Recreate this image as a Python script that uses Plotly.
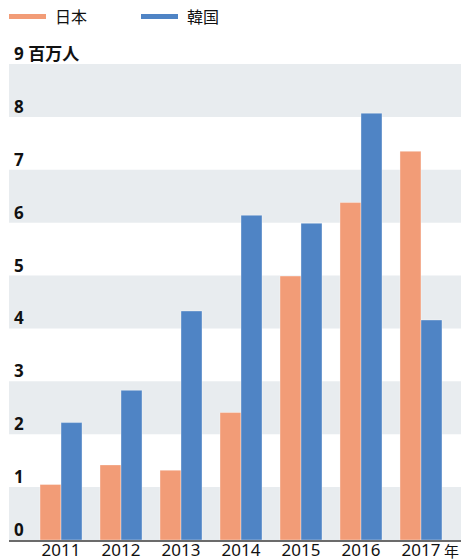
import plotly.graph_objects as go

years = ["2011", "2012", "2013", "2014", "2015", "2016", "2017"]
japan = [1.05, 1.42, 1.32, 2.41, 4.99, 6.38, 7.35]
korea = [2.22, 2.83, 4.33, 6.14, 5.99, 8.07, 4.16]
series_names = ["日本", "韓国"]
series_colors = ["#F29C77", "#4F84C5"]
y_ticks = [0, 1, 2, 3, 4, 5, 6, 7, 8, 9]
y_unit = "百万人"
x_unit = "年"

FONT = "Noto Sans, Noto Sans CJK JP"

fig = go.Figure()
for name, vals, col in zip(series_names, [japan, korea], series_colors):
    fig.add_trace(go.Bar(
        x=list(range(len(years))), y=vals, name=name,
        marker=dict(color=col, line=dict(color="rgba(255,255,255,0.35)", width=1)),
        showlegend=False,
    ))

shapes = []
for lo in y_ticks[:-1:2]:
    shapes.append(dict(type="rect", xref="paper", yref="y", x0=0, x1=1, y0=lo, y1=lo + 1,
                       fillcolor="#E8ECEF", line=dict(width=0), layer="below"))

annotations = []
for t in y_ticks:
    txt = f"<b>{t}</b>" if t != y_ticks[-1] else f"<b>{t} {y_unit}</b>"
    annotations.append(dict(xref="paper", yref="y", x=0.006, y=t, text=txt, showarrow=False,
                            xanchor="left", yanchor="bottom", yshift=-3,
                            font=dict(family=FONT, size=17, color="#111")))
annotations.append(dict(xref="paper", yref="paper", x=1, xshift=-1, y=0, text=x_unit,
                        showarrow=False, borderpad=0,
                        xanchor="right", yanchor="middle", yshift=-11,
                        font=dict(family=FONT, size=15, color="#111")))

# manual legend
leg_x = [9, 141]
for i, (name, col) in enumerate(zip(series_names, series_colors)):
    shapes.append(dict(type="rect", xref="paper", yref="paper",
                       x0=(leg_x[i] - 9) / 452, x1=(leg_x[i] - 9 + 37) / 452,
                       y0=(540 - 19) / 476, y1=(540 - 14) / 476,
                       fillcolor=col, line=dict(width=0)))
    annotations.append(dict(xref="paper", yref="paper", x=(leg_x[i] - 9 + 44) / 452,
                            y=(540 - 17.5) / 476, text=name, showarrow=False,
                            xanchor="left", yanchor="middle",
                            font=dict(family=FONT, size=16, color="#111")))

fig.update_layout(
    width=461, height=560,
    margin=dict(l=9, r=0, t=64, b=20, autoexpand=False),
    plot_bgcolor="white", paper_bgcolor="white",
    barmode="group", bargap=0.3, bargroupgap=0,
    shapes=shapes, annotations=annotations,
    xaxis=dict(tickmode="array", tickvals=list(range(len(years))), ticktext=years,
               range=[-0.867, 6.667], showgrid=False, zeroline=False, automargin=False,
               showline=True, linecolor="#6b6b6b", linewidth=2, ticks="",
               tickfont=dict(family=FONT, size=17, color="#111"), ticklabelstandoff=-6),
    yaxis=dict(range=[0, 9], showgrid=False, zeroline=False, showticklabels=False,
               fixedrange=True, automargin=False),
)

fig.write_html("out.html")
